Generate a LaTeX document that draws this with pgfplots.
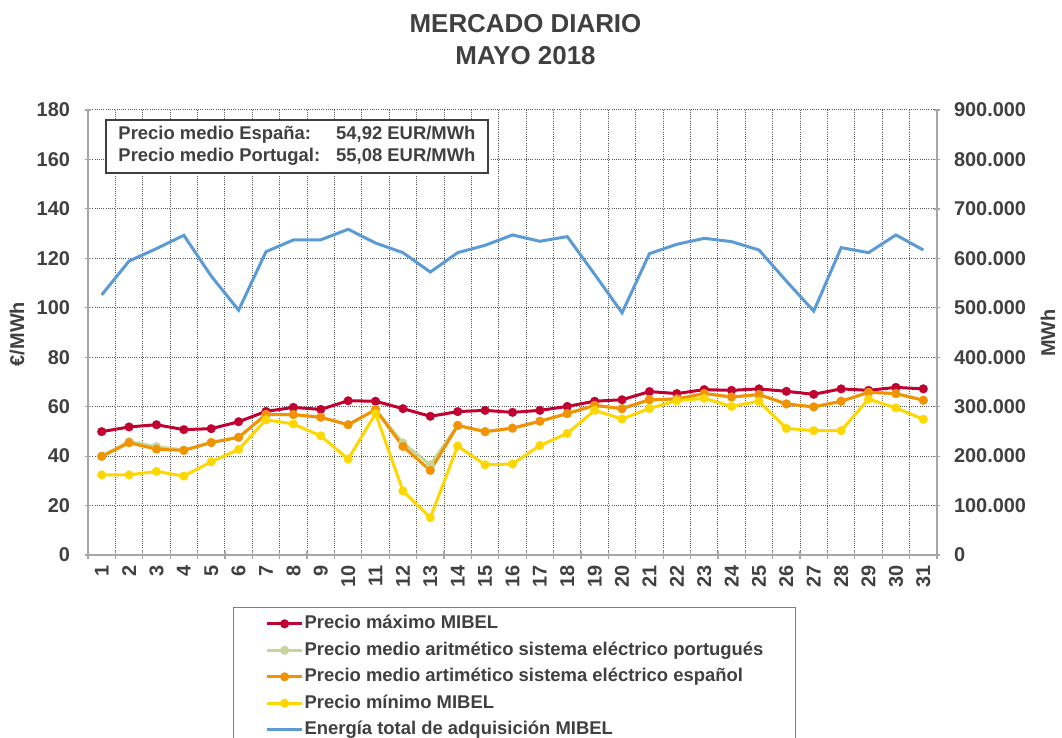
\documentclass[border=0pt]{standalone}
\usepackage{fontspec}
\setmainfont{Liberation Sans}
\usepackage{pgfplots}
\usepackage{pgfplotstable}
\pgfplotsset{compat=1.18}

\definecolor{txt}{HTML}{404040}
\definecolor{axgray}{HTML}{A6A6A6}
\definecolor{gridc}{HTML}{595959}
\definecolor{cmax}{HTML}{C00030}
\definecolor{cpt}{HTML}{C4D79B}
\definecolor{ces}{HTML}{F39200}
\definecolor{cmin}{HTML}{FFD700}
\definecolor{cen}{HTML}{5B9BD5}

% dia, precio max, medio PT, medio ES, min, energia (MWh)
\pgfplotstableread{
dia max pt es min en
1 49.9 40.0 39.9 32.4 526000
2 51.8 45.9 45.4 32.4 594500
3 52.7 43.8 42.8 33.8 619700
4 50.7 42.5 42.3 31.9 646600
5 51.1 45.5 45.5 37.7 564000
6 53.9 47.6 47.6 42.7 495300
7 58.1 56.8 56.8 54.7 613500
8 59.7 56.8 56.8 53.0 637200
9 58.9 55.7 55.7 48.2 637500
10 62.4 52.7 52.7 38.8 658800
11 62.2 58.8 58.8 57.2 631000
12 59.2 45.3 43.9 25.9 611500
13 56.1 36.5 34.2 15.1 572300
14 58.0 52.4 52.4 44.1 611500
15 58.5 49.9 49.9 36.5 626400
16 57.7 51.3 51.3 36.8 647300
17 58.5 54.1 54.1 44.3 634500
18 60.1 57.2 57.2 49.2 644000
19 62.2 60.5 60.5 58.5 567600
20 62.8 59.2 59.2 55.0 489900
21 66.1 62.8 62.8 59.3 609500
22 65.3 63.1 63.1 62.4 628400
23 66.9 65.3 65.3 63.4 640500
24 66.6 63.9 63.9 60.1 633800
25 67.2 64.9 64.9 62.2 616900
26 66.2 61.1 61.1 51.2 554000
27 65.0 59.9 59.9 50.3 493200
28 67.2 62.2 62.2 50.3 621600
29 66.6 65.8 65.8 63.1 611500
30 67.8 65.3 65.3 59.5 647300
31 67.2 62.6 62.6 54.9 616900
}\datos

\pgfplotsset{
  common/.style={
    at={(0,0)}, anchor=south west,
    scale only axis, width=424.5bp, height=222.5bp,
    xmin=0.5, xmax=31.5,
    ticklabel style={font=\fontsize{10}{12}\selectfont\bfseries, text=txt},
    /pgf/number format/assume math mode=true,
    tick align=outside,
  },
  lines/.style={axis line style={-, draw=axgray, line width=1bp}},
  serie/.style={draw=#1, line width=1.5bp, mark=*, mark size=2.2bp,
    mark options={fill=#1, draw=#1, line width=0.1bp}},
  legend image code/.code={
    \draw[mark repeat=2, mark phase=2, #1]
      plot coordinates {(0bp,0bp) (8.75bp,0bp) (17.5bp,0bp)};},
}

\begin{document}
\begin{tikzpicture}
\begin{axis}[common,
  axis x line=bottom, axis y line=left, lines,
  ymin=0, ymax=180, ytick distance=20,
  yticklabel style={xshift=-4bp},
  xtick={1,...,31},
  xticklabel style={rotate=90, anchor=east},
  minor xtick={0.5,1.5,...,31.5},
  major x tick style={draw=none},
  minor x tick style={draw=axgray, line width=0.6bp},
  minor tick length=3.5bp,
  major tick length=3bp,
  ytick style={draw=axgray, line width=0.6bp},
  ymajorgrids, xminorgrids,
  major grid style={gridc, line width=0.5bp, dash pattern=on 0.5bp off 0.6bp},
  minor grid style={gridc, line width=0.5bp, dash pattern=on 0.5bp off 0.6bp},
  clip=false,
]
\addplot[serie=cmax] table[x=dia, y=max] {\datos};
\addplot[serie=cpt] table[x=dia, y=pt] {\datos};
\addplot[serie=ces] table[x=dia, y=es] {\datos};
\addplot[serie=cmin] table[x=dia, y=min] {\datos};
\node[draw=txt, line width=1bp, fill=white, anchor=north west,
  minimum width=191bp, minimum height=26.5bp, inner sep=0pt,
  font=\fontsize{9.25}{11}\selectfont\bfseries, text=txt]
  at (rel axis cs:0.02,0.9798)
  {\begin{tabular}{@{}l@{\hspace{8bp}}l@{}}
   Precio medio España: & 54,92 EUR/MWh\\
   Precio medio Portugal: & 55,08 EUR/MWh
   \end{tabular}};
\end{axis}

\begin{axis}[common,
  axis y line=right, axis x line=none, lines,
  xtick=\empty,
  ymin=0, ymax=900000, ytick distance=100000,
  scaled y ticks=false,
  yticklabel style={xshift=3.5bp, /pgf/number format/.cd, fixed, 1000 sep={.}},
  ytick style={draw=axgray, line width=0.6bp},
  major tick length=3bp,
  legend cell align=left,
  legend style={at={(axis description cs:0.1708,-0.1169)}, anchor=north west,
    draw=gray, line width=0.6bp,
    font=\fontsize{9.25}{11}\selectfont\bfseries, text=txt,
    inner xsep=16bp, inner ysep=3.5bp, row sep=4.05bp, column sep=0.5bp,
    nodes={inner sep=0pt, text height=7bp, text depth=2.2bp}},
]
\addlegendimage{serie=cmax}
\addlegendentry{Precio máximo MIBEL}
\addlegendimage{serie=cpt}
\addlegendentry{Precio medio aritmético sistema eléctrico portugués}
\addlegendimage{serie=ces}
\addlegendentry{Precio medio artimético sistema eléctrico español}
\addlegendimage{serie=cmin}
\addlegendentry{Precio mínimo MIBEL}
\addplot[cen, line width=1.5bp] table[x=dia, y=en] {\datos};
\addlegendentry{Energía total de adquisición MIBEL}
\end{axis}

\node[font=\fontsize{13}{15}\selectfont\bfseries, text=txt, anchor=base]
  at (218.75bp,261bp) {MERCADO DIARIO};
\node[font=\fontsize{13}{15}\selectfont\bfseries, text=txt, anchor=base]
  at (218.75bp,245bp) {MAYO 2018};
\node[rotate=90, font=\fontsize{10}{12}\selectfont\bfseries, text=txt]
  at (-35.5bp,110.5bp) {€/MWh};
\node[rotate=90, font=\fontsize{10}{12}\selectfont\bfseries, text=txt]
  at (480bp,111bp) {MWh};

\pgfresetboundingbox
\path[use as bounding box] (-44bp,-91.5bp) rectangle (487bp,277.5bp);
\end{tikzpicture}
\end{document}
